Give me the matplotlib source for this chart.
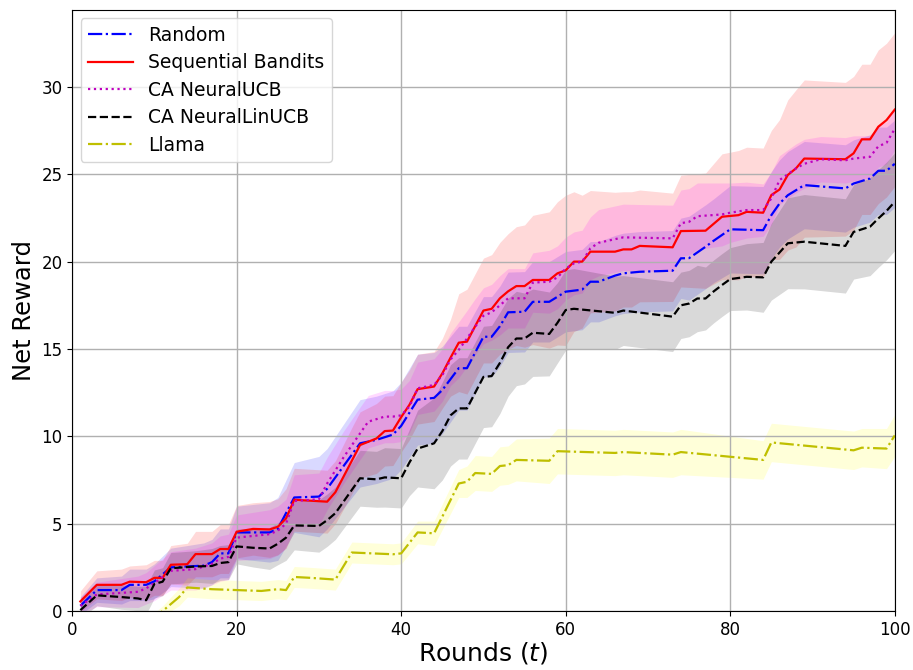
"""Net reward over rounds for the bandit baselines and the Llama agent."""
import matplotlib
matplotlib.use("Agg")
import matplotlib.pyplot as plt  # noqa: E402
import numpy as np  # noqa: E402

# mean curves (round, reward) and band half-widths (std) per method
RANDOM_X = [1, 3, 6, 7, 9, 10, 12, 16, 17, 18, 19, 20, 24, 25, 27, 30, 31, 35, 37, 39, 40,
            42, 44, 45, 47, 48, 50, 51, 52, 53, 55, 56, 58, 60, 62, 63, 64, 66, 67, 69, 73,
            74, 75, 77, 78, 80, 84, 85, 86, 87, 89, 94, 95, 97, 98, 99, 100]
RANDOM_Y = [0.3, 1.2, 1.2, 1.5, 1.5, 1.7, 2.5, 2.6, 2.8, 3.3, 3.3, 4.5, 4.5, 4.7, 6.5, 6.55,
            7.0, 9.6, 9.8, 10.1, 10.6, 12.1, 12.2, 12.65, 13.9, 13.9, 15.7, 15.7, 16.3, 17.1,
            17.13, 17.7, 17.7, 18.28, 18.4, 18.85, 18.85, 19.2, 19.33, 19.42, 19.48, 20.19,
            20.2, 20.85, 21.2, 21.85, 21.8, 22.66, 23.33, 23.8, 24.38, 24.19, 24.47, 24.76,
            25.2, 25.2, 25.6]
RANDOM_SD = [0.5, 0.7, 0.8, 0.9, 0.9, 1.0, 1.1, 1.3, 1.3, 1.4, 1.4, 1.5, 1.7, 1.8, 2.0, 2.3,
             2.3, 2.5, 2.5, 2.5, 2.5, 2.6, 2.6, 2.5, 2.4, 2.4, 2.3, 2.3, 2.3, 2.3, 2.3, 2.3,
             2.3, 2.3, 2.3, 2.3, 2.3, 2.3, 2.3, 2.3, 2.3, 2.3, 2.4, 2.4, 2.4, 2.5, 2.5, 2.5,
             2.5, 2.5, 2.5, 2.5, 2.5, 2.5, 2.5, 2.5, 2.5]

SEQ_X = [1, 3, 6, 7, 9, 10, 11, 12, 14, 15, 17, 18, 19, 20, 22, 24, 25, 26, 27, 31, 32, 34,
         35, 37, 38, 39, 40, 41, 42, 44, 45, 46, 47, 48, 50, 51, 52, 53, 54, 55, 56, 58, 59,
         60, 61, 62, 63, 66, 67, 68, 69, 73, 74, 77, 79, 81, 82, 84, 85, 86, 87, 88, 89, 94,
         95, 96, 97, 98, 99, 100]
SEQ_Y = [0.55, 1.5, 1.5, 1.68, 1.65, 1.9, 1.9, 2.65, 2.68, 3.26, 3.26, 3.55, 3.55, 4.54, 4.7,
         4.67, 4.82, 5.3, 6.37, 6.26, 6.8, 8.6, 9.5, 9.88, 10.3, 10.33, 11.1, 11.8, 12.7,
         12.85, 13.6, 14.5, 15.36, 15.42, 17.2, 17.3, 17.9, 18.3, 18.6, 18.6, 18.95, 18.95,
         19.33, 19.5, 20.0, 20.0, 20.57, 20.57, 20.7, 20.7, 20.9, 20.82, 21.75, 21.77, 22.57,
         22.66, 22.85, 22.8, 23.81, 24.13, 24.96, 25.34, 25.9, 25.86, 26.2, 27.0, 27.0, 27.72,
         28.1, 28.7]
SEQ_SD = [0.6, 0.8, 0.9, 0.9, 1.0, 1.0, 1.0, 1.1, 1.2, 1.3, 1.3, 1.4, 1.4, 1.5, 1.5, 1.6,
          1.6, 1.7, 1.8, 1.8, 1.8, 1.9, 1.9, 2.0, 2.0, 2.0, 2.0, 2.0, 2.0, 2.0, 2.0, 2.2, 2.8,
          3.0, 3.0, 3.1, 3.2, 3.3, 3.4, 3.5, 3.7, 3.9, 4.1, 4.3, 4.0, 3.8, 3.5, 3.4, 3.3, 3.3,
          3.2, 3.1, 3.2, 3.3, 3.6, 3.7, 3.7, 3.7, 3.7, 4.0, 4.3, 4.5, 4.5, 4.4, 4.4, 4.3, 4.3,
          4.4, 4.4, 4.4]

NUCB_X = [1, 3, 8, 9, 10, 12, 15, 17, 18, 19, 20, 24, 25, 26, 27, 30, 31, 33, 35, 36, 38,
          39, 40, 41, 42, 44, 45, 46, 47, 48, 49, 50, 51, 52, 53, 55, 56, 58, 59, 60, 61, 62,
          63, 64, 67, 73, 74, 75, 76, 79, 80, 82, 84, 85, 86, 88, 89, 91, 94, 95, 97, 98, 99,
          100]
NUCB_Y = [0.3, 0.95, 1.1, 1.3, 1.6, 2.3, 2.4, 2.7, 3.0, 3.1, 4.2, 4.4, 4.6, 5.0, 6.3, 6.4,
          7.3, 8.8, 10.17, 10.84, 11.13, 11.13, 11.2, 11.7, 12.75, 12.94, 13.5, 14.4, 14.95,
          15.6, 16.28, 16.9, 17.1, 17.5, 17.9, 17.9, 18.8, 18.85, 19.1, 19.6, 19.9, 20.0,
          20.76, 21.08, 21.39, 21.33, 22.2, 22.28, 22.6, 22.7, 22.8, 22.95, 22.95, 23.62,
          24.67, 25.34, 25.6, 25.86, 25.8, 25.9, 26.0, 26.6, 26.8, 27.6]
NUCB_SD = [0.5, 0.7, 0.9, 0.9, 1.0, 1.1, 1.2, 1.2, 1.3, 1.3, 1.3, 1.4, 1.4, 1.4, 1.5, 1.5,
           1.5, 1.5, 1.5, 1.5, 1.5, 1.5, 1.5, 1.5, 1.5, 1.5, 1.5, 1.5, 1.6, 1.6, 1.6, 1.6,
           1.6, 1.7, 1.7, 1.7, 1.7, 1.8, 1.8, 1.8, 1.8, 1.8, 1.8, 1.9, 1.9, 1.9, 1.9, 1.9,
           1.9, 1.8, 1.7, 1.6, 1.5, 1.5, 1.4, 1.4, 1.4, 1.3, 1.3, 1.3, 1.2, 1.2, 1.2, 1.2]

NLIN_X = [1, 3, 6, 8, 9, 10, 11, 12, 15, 17, 18, 19, 20, 22, 24, 25, 26, 27, 30, 31, 32, 35,
          37, 38, 40, 41, 42, 44, 45, 46, 47, 48, 50, 51, 52, 53, 54, 55, 56, 58, 59, 60, 61,
          66, 67, 73, 74, 75, 76, 77, 78, 79, 80, 82, 84, 85, 87, 89, 94, 95, 97, 98, 99, 100]
NLIN_Y = [0.05, 0.9, 0.8, 0.72, 0.62, 1.55, 1.68, 2.45, 2.55, 2.58, 2.75, 2.8, 3.7, 3.62,
          3.58, 3.85, 4.2, 4.9, 4.87, 5.2, 5.6, 7.6, 7.54, 7.65, 7.6, 8.5, 9.3, 9.6, 10.3,
          11.2, 11.6, 11.6, 13.4, 13.45, 14.2, 15.1, 15.6, 15.6, 15.93, 15.86, 16.5, 17.23,
          17.3, 17.07, 17.2, 16.85, 17.5, 17.6, 17.89, 17.89, 18.3, 18.66, 19.0, 19.13, 19.1,
          20.0, 21.05, 21.14, 20.9, 21.7, 22.0, 22.47, 22.9, 23.43]
NLIN_SD = [0.5, 0.6, 0.7, 0.7, 0.8, 0.8, 0.8, 0.9, 0.9, 1.0, 1.0, 1.0, 1.0, 1.1, 1.2, 1.2,
           1.3, 1.4, 1.5, 1.5, 1.5, 1.6, 1.6, 1.7, 1.7, 1.9, 2.2, 2.6, 2.8, 2.9, 2.9, 2.9,
           2.9, 2.9, 2.9, 2.8, 2.7, 2.6, 2.5, 2.4, 2.3, 2.3, 2.3, 2.1, 2.0, 2.0, 1.9, 1.9,
           1.9, 1.8, 1.8, 1.8, 1.8, 1.9, 2.0, 2.2, 2.6, 2.7, 2.7, 2.7, 2.8, 2.8, 2.8, 2.8]

LLAMA_X = [1, 5, 10, 11, 13, 14, 17, 23, 25, 26, 27, 29, 32, 34, 39, 40, 42, 44, 47, 48, 49,
           51, 52, 53, 54, 58, 59, 66, 67, 73, 74, 84, 85, 95, 96, 99, 100]
LLAMA_Y = [-0.8, -0.6, -0.4, 0.0, 0.8, 1.35, 1.25, 1.15, 1.25, 1.2, 1.95, 1.9, 1.8, 3.35,
           3.25, 3.3, 4.5, 4.45, 7.3, 7.4, 7.9, 7.85, 8.3, 8.35, 8.65, 8.6, 9.15, 9.05, 9.1,
           8.95, 9.1, 8.65, 9.65, 9.2, 9.35, 9.3, 10.05]
LLAMA_SD = [0.3, 0.3, 0.3, 0.3, 0.5, 0.55, 0.55, 0.55, 0.55, 0.55, 0.6, 0.6, 0.6, 0.6, 0.6,
            0.6, 0.65, 0.7, 0.8, 0.9, 1.0, 1.0, 1.1, 1.1, 1.2, 1.3, 1.3, 1.3, 1.3, 1.3, 1.3,
            1.1, 1.1, 1.1, 1.1, 1.15, 1.2]

SERIES = [
    ("Random", RANDOM_X, RANDOM_Y, RANDOM_SD, "b", "-.", "blue"),
    ("Sequential Bandits", SEQ_X, SEQ_Y, SEQ_SD, "r", "-", "red"),
    ("CA NeuralUCB", NUCB_X, NUCB_Y, NUCB_SD, "m", ":", "magenta"),
    ("CA NeuralLinUCB", NLIN_X, NLIN_Y, NLIN_SD, "k", "--", "black"),
    ("Llama", LLAMA_X, LLAMA_Y, LLAMA_SD, "y", "-.", "yellow"),
]

fig = plt.figure(figsize=(9.13, 6.70), dpi=100)
ax = fig.add_axes([0.079, 0.088, 0.901, 0.897])

for name, xs, ys, sd, col, ls, band in SERIES:
    x = np.array(xs, float)
    y = np.array(ys, float)
    s = np.array(sd, float)
    ax.plot(x, y, ls, color=col, lw=1.6, label=name)
    ax.fill_between(x, y - s, y + s, color=band, alpha=0.15, lw=0)

ax.set_xlim(0, 100)
ax.set_ylim(0, 34.4)
ax.set_xticks(range(0, 101, 20))
ax.set_yticks(range(0, 31, 5))
ax.tick_params(labelsize=12)
ax.grid(True, color="#b0b0b0", lw=1)
ax.set_xlabel("Rounds ($t$)", fontsize=18, labelpad=1)
ax.set_ylabel("Net Reward", fontsize=17.5, labelpad=4)
ax.legend(loc="upper left", fontsize=13.5, handlelength=2.4, labelspacing=0.45,
          borderaxespad=0.45)

fig.savefig("out.png", dpi=100)
